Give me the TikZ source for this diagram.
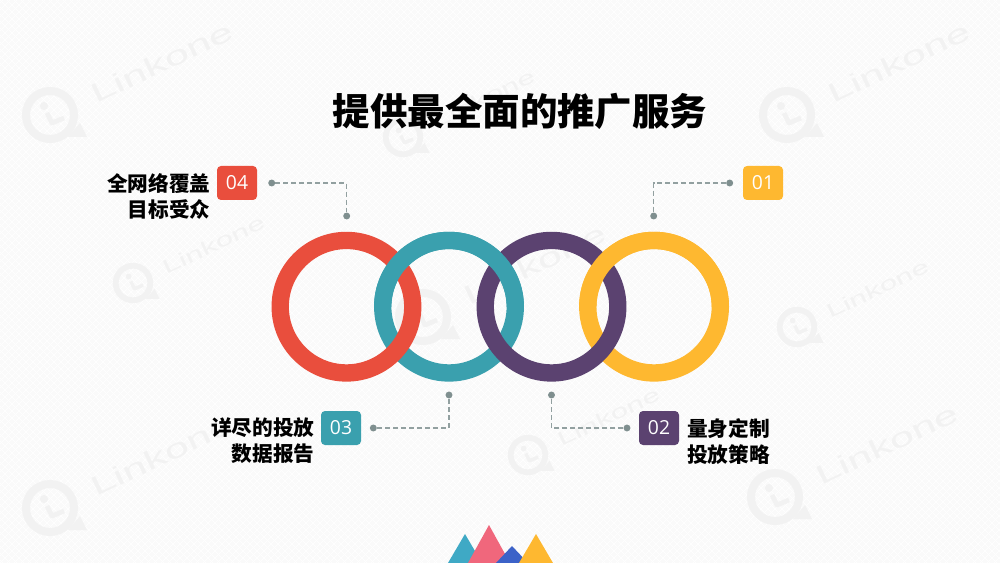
\documentclass[tikz,border=0pt]{standalone}
\usepackage{fontspec}
\newfontfamily\cjk{Noto Sans CJK SC}
\newfontfamily\numfont{Open Sans}
\newfontfamily\markfont{Liberation Sans}
\usetikzlibrary{positioning}
\definecolor{redring}{HTML}{E94E3D}
\definecolor{tealring}{HTML}{3AA0AE}
\definecolor{plumring}{HTML}{5B4270}
\definecolor{goldring}{HTML}{FEB830}
\definecolor{leadgray}{HTML}{7F8F8F}
\definecolor{markgray}{HTML}{F2F2F2}
\definecolor{peakteal}{HTML}{3FA9C5}
\definecolor{peakpink}{HTML}{F0677C}
\definecolor{peakblue}{HTML}{3C62C8}
\tikzset{
    x=0.75pt, y=-0.75pt, % one unit is one pixel of the slide
    node distance=76.9pt,
    ring/.style={circle, draw=#1, line width=13pt, inner sep=0pt, outer sep=0pt, minimum size=99.4pt},
    arcback/.style={draw=#1, line width=13pt},
    badge/.style={rectangle, rounded corners=3pt, fill=#1, text=white, inner sep=0pt, minimum width=30pt, minimum height=25.5pt, font=\numfont\fontsize{14.5}{14.5}\selectfont},
    label/.style={inner sep=0pt, font=\cjk\bfseries\fontsize{15.5}{19.5}\selectfont, text=black},
    pin/.style={circle, fill=leadgray, inner sep=0pt, minimum size=5.2pt},
    leader/.style={draw=leadgray!85, line width=0.9pt, dash pattern=on 3.6pt off 2.4pt},
    peak/.style={fill=#1, draw=none},
    marktext/.style={transform shape, text=markgray, inner sep=0pt, anchor=base west, rotate=25.5, xscale=1.65, font=\markfont\fontsize{20}{20}\selectfont},
}
% watermark: x, y, size
\newcommand{\linkmark}[3]{
    \begin{scope}[shift={(#1,#2)}, scale=#3]
        \draw[markgray, line width=#3*6pt] (0,0) circle[radius=24];
        \fill[markgray] (-6,-9) circle[radius=4];
        \draw[markgray, line width=#3*3.6pt, line join=round] (-3,-2) -- (2,8) -- (14,3);
        \fill[markgray] (30,8) -- (37,22) -- (18,22) -- cycle;
        \node[marktext] (mark#1) at (46,-11) {Linkone};
    \end{scope}
}
\begin{document}
\begin{tikzpicture}
        \useasboundingbox (0,0) rectangle (1000,563);
        % Background
        \fill[white!98!black] (0,0) rectangle (1000,563);
        \begin{scope}
            \clip (0,0) rectangle (1000,563);
            \foreach \k in {-560,-553,...,1000} {
                \draw[white, line width=0.5pt] (\k,0) -- ++(563,563);
                \draw[white, line width=0.5pt] (\k,563) -- ++(563,-563);
            }
        \end{scope}
        \linkmark{50}{115}{1}
        \linkmark{787}{115}{1}
        \linkmark{133}{283}{0.72}
        \linkmark{797}{327}{0.72}
        \linkmark{423}{317}{1}
        \linkmark{403}{137}{0.72}
        \linkmark{528}{455}{0.72}
        \linkmark{50}{508}{1}
        \linkmark{775}{497}{1}

        % Title
        \node[inner sep=0pt, font=\cjk\bfseries\fontsize{28.1}{28.1}\selectfont] (title) at (520,111) {提供最全面的推广服务};

        % Rings
        \node[ring=tealring] (R3) at (449,306.7) {};
        \node[ring=goldring, right of=R3, node distance=153.8pt] (R1) {};
        \node[ring=redring, left of=R3] (R4) {};
        \node[ring=plumring, right of=R3] (R2) {};
        \draw[arcback=tealring] (R3.west) arc[start angle=180, end angle=0, radius=49.7pt];
        \draw[arcback=goldring] (R1.west) arc[start angle=180, end angle=0, radius=49.7pt];

        % Badges
        \node[badge=goldring] (B1) at (763,183) {01};
        \node[badge=plumring] (B2) at (659,428) {02};
        \node[badge=tealring] (B3) at (341,428) {03};
        \node[badge=redring] (B4) at (237,183) {04};

        % Labels
        \node[label, align=left, right=5.7pt of B2, yshift=-9.8pt] (L2) {量身定制\\投放策略};
        \node[label, align=right, left=4.6pt of B3, yshift=-9.8pt] (L3) {详尽的投放\\数据报告};
        \node[label, align=right, left=4.6pt of B4, yshift=-9.8pt] (L4) {全网络覆盖\\目标受众};

        % Pins
        \node[pin] (P1a) at (729.7,183) {};
        \node[pin] (P1b) at (653.7,216) {};
        \node[pin] (P2a) at (627,428) {};
        \node[pin] (P2b) at (551.5,395) {};
        \node[pin] (P3a) at (373.3,428) {};
        \node[pin] (P3b) at (449,395) {};
        \node[pin] (P4a) at (271.7,183) {};
        \node[pin] (P4b) at (346.7,216) {};

        % Draw lines
        \draw[leader]
            (P1a) -| (P1b)
            (P2a) -| (P2b)
            (P3a) -| (P3b)
            (P4a) -| (P4b)
        ;

        % Peaks
        \fill[peak=peakteal] (465,534) -- (448,563) -- (482,563) -- cycle;
        \fill[peak=peakpink] (489,525) -- (468,563) -- (510,563) -- cycle;
        \fill[peak=peakblue] (512,546) -- (496,563) -- (528,563) -- cycle;
        \fill[peak=goldring] (536,534) -- (519,563) -- (553,563) -- cycle;
    \end{tikzpicture}
\end{document}
